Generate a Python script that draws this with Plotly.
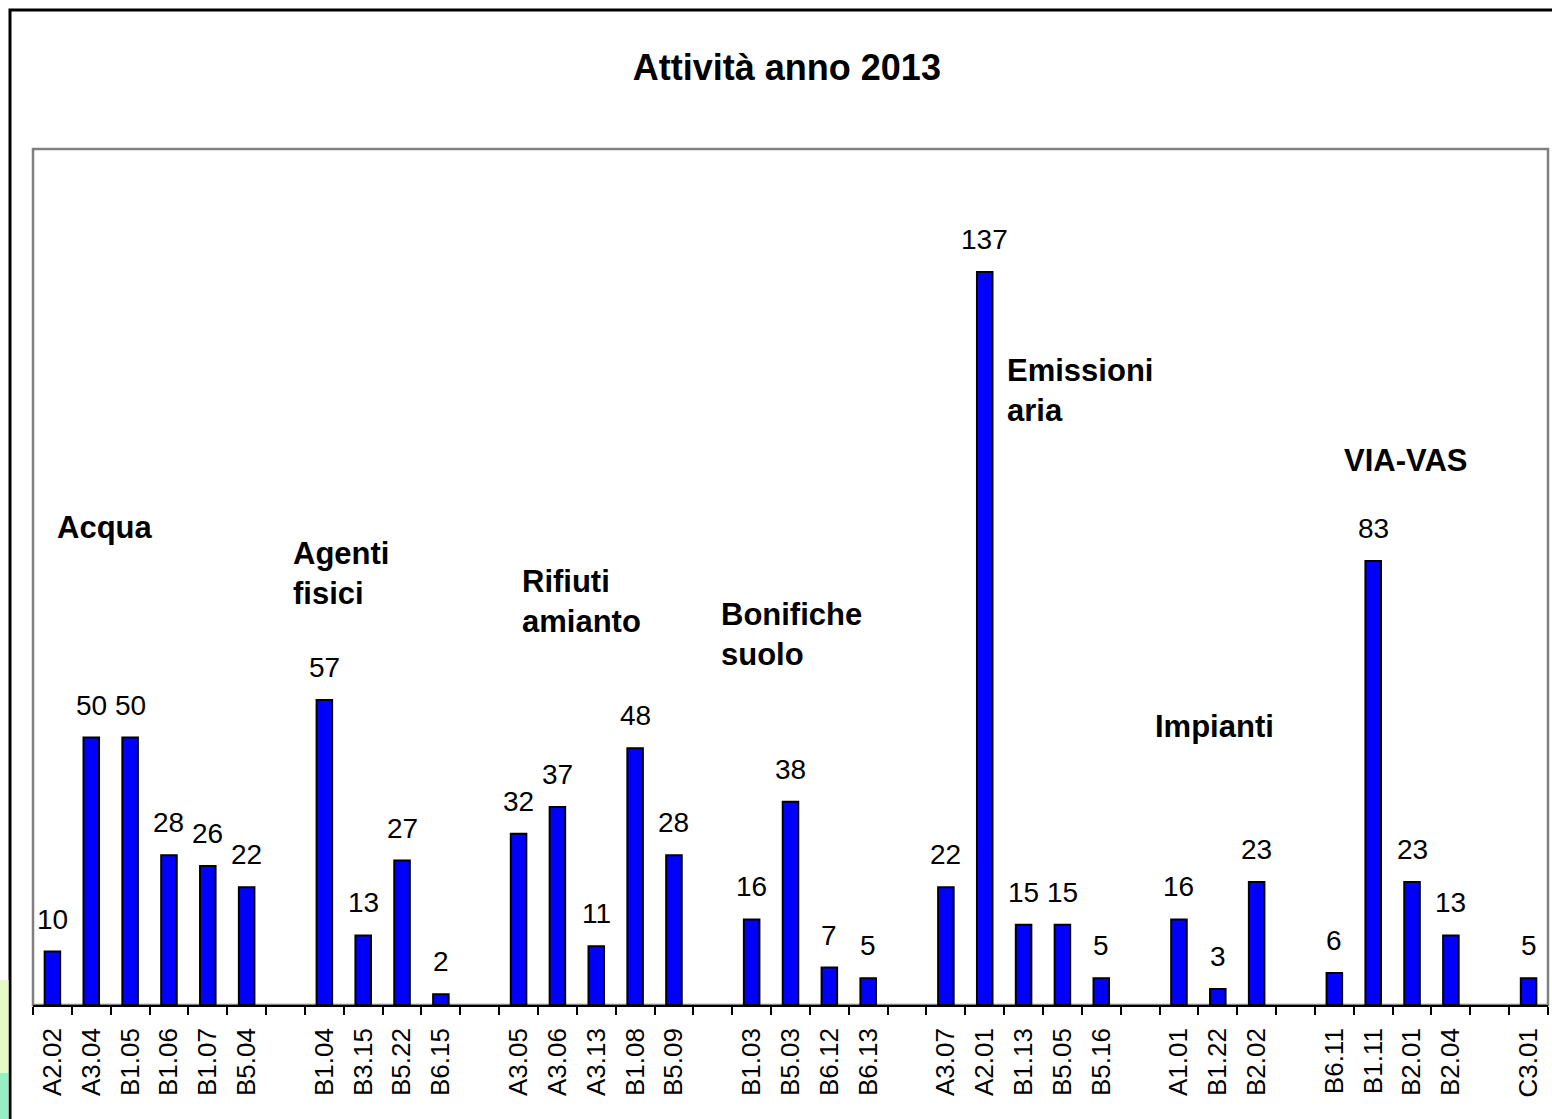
import plotly.graph_objects as go

# ---- data ----
group_names = ["Acqua", "Agenti<br>fisici", "Rifiuti<br>amianto", "Bonifiche<br>suolo",
               "Emissioni<br>aria", "Impianti", "VIA-VAS", ""]
acqua_labels = ["A2.02", "A3.04", "B1.05", "B1.06", "B1.07", "B5.04"]
acqua_values = [10, 50, 50, 28, 26, 22]
agenti_labels = ["B1.04", "B3.15", "B5.22", "B6.15"]
agenti_values = [57, 13, 27, 2]
rifiuti_labels = ["A3.05", "A3.06", "A3.13", "B1.08", "B5.09"]
rifiuti_values = [32, 37, 11, 48, 28]
bonifiche_labels = ["B1.03", "B5.03", "B6.12", "B6.13"]
bonifiche_values = [16, 38, 7, 5]
emissioni_labels = ["A3.07", "A2.01", "B1.13", "B5.05", "B5.16"]
emissioni_values = [22, 137, 15, 15, 5]
impianti_labels = ["A1.01", "B1.22", "B2.02"]
impianti_values = [16, 3, 23]
viavas_labels = ["B6.11", "B1.11", "B2.01", "B2.04"]
viavas_values = [6, 83, 23, 13]
altro_labels = ["C3.01"]
altro_values = [5]

group_labels = [acqua_labels, agenti_labels, rifiuti_labels, bonifiche_labels,
                emissioni_labels, impianti_labels, viavas_labels, altro_labels]
group_values = [acqua_values, agenti_values, rifiuti_values, bonifiche_values,
                emissioni_values, impianti_values, viavas_values, altro_values]

# group label placement (slot units, value units)
group_label_x = [0.07, 6.13, 12.03, 17.17, 24.53, 28.32, 33.2, 0]
group_label_y = [89.2, 80.7, 75.5, 69.2, 114.8, 52.1, 101.7, 0]

FONT = "Arial, Liberation Sans, sans-serif"

# ---- build slot positions (one empty slot between groups) ----
xs, labels, values = [], [], []
slot = 0
for labs, vals in zip(group_labels, group_values):
    for l, v in zip(labs, vals):
        xs.append(slot)
        labels.append(l)
        values.append(v)
        slot += 1
    slot += 1
n_slots = slot - 1
boundaries = [i - 0.5 for i in range(n_slots + 1)]

fig = go.Figure()
fig.add_trace(go.Bar(
    x=xs, y=values, width=0.4,
    marker=dict(color="#0000FF", line=dict(color="black", width=2)),
    hoverinfo="x+y", showlegend=False,
))

annotations = []
for x, v in zip(xs, values):
    annotations.append(dict(x=x, y=v, xref="x", yref="y", text=str(v),
                            showarrow=False, yanchor="bottom", xanchor="center",
                            yshift=15, font=dict(family=FONT, size=28, color="black")))
for name, gx, gy in zip(group_names, group_label_x, group_label_y):
    if name:
        annotations.append(dict(x=gx, y=gy, xref="x", yref="y", text="<b>" + name + "</b>",
                                showarrow=False, xanchor="left", yanchor="middle", align="left",
                                font=dict(family=FONT, size=31, color="black")))

W, H = 1552, 1119
L, R, T, B = 33, 4, 149, 114
pw, ph = W - L - R, H - T - B

def px_x(p):
    return (p - L) / pw

def px_y(p):
    return (H - B - p) / ph

shapes = [
    # plot area border (grey)
    dict(type="rect", xref="paper", yref="paper", x0=0, x1=1, y0=0, y1=1,
         line=dict(color="#808080", width=2.5), layer="below"),
    # outer chart frame
    dict(type="rect", xref="paper", yref="paper", x0=px_x(10), x1=px_x(1570),
         y0=px_y(1140), y1=px_y(10), line=dict(color="black", width=3)),
    # slide background remnants bottom-left
    dict(type="rect", xref="paper", yref="paper", x0=px_x(-2), x1=px_x(8.5),
         y0=px_y(1073), y1=px_y(980), line=dict(width=0), fillcolor="#E6FAC8"),
    dict(type="rect", xref="paper", yref="paper", x0=px_x(-2), x1=px_x(8.5),
         y0=px_y(1125), y1=px_y(1073), line=dict(width=0), fillcolor="#96EEC4"),
]

fig.update_layout(
    width=W, height=H,
    margin=dict(l=L, r=R, t=T, b=B, pad=0),
    paper_bgcolor="white", plot_bgcolor="white",
    title=dict(text="<b>Attività anno 2013</b>", x=0.507, xanchor="center",
               y=1 - 67 / H, yanchor="middle", yref="container",
               font=dict(family=FONT, size=36, color="black")),
    xaxis=dict(range=[-0.5, n_slots - 0.5], tickmode="array", tickvals=xs, ticktext=labels,
               tickangle=-90, ticks="", showgrid=False, zeroline=False,
               showline=True, linecolor="black", linewidth=1.5,
               tickfont=dict(family=FONT, size=26, color="black"),
               ticklabelstandoff=11,
               minor=dict(tickmode="array", tickvals=boundaries, ticks="outside",
                          ticklen=8, tickwidth=1.5, tickcolor="black", showgrid=False),
               fixedrange=True),
    yaxis=dict(range=[0, 160], showticklabels=False, ticks="", showgrid=False,
               zeroline=False, showline=False, fixedrange=True),
    annotations=annotations,
    shapes=shapes,
    bargap=0.6,
)

fig.write_html("out.html")
